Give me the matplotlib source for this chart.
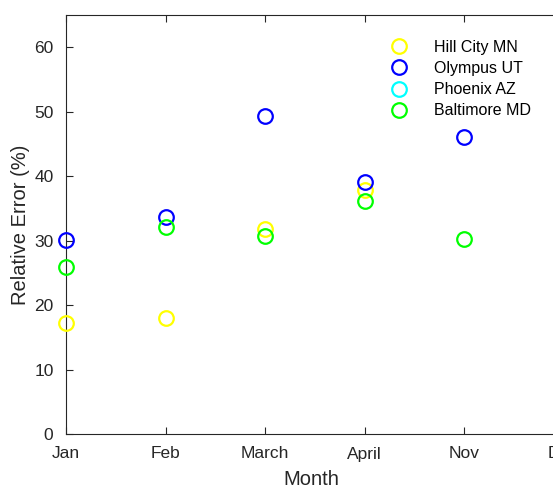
import numpy as np
import matplotlib
matplotlib.use("Agg")
import matplotlib.pyplot as plt

plt.rcParams['font.family'] = ['Liberation Sans', 'DejaVu Sans']

months = ["Jan", "Feb", "March", "April", "Nov", "Dec"]
hill_city = [17.2, 18.0, 31.8, 37.8, np.nan]
olympus = [30.1, 33.6, 49.3, 39.1, 46.0]
phoenix = [np.nan, np.nan, np.nan, np.nan, np.nan]
baltimore = [25.9, 32.1, 30.7, 36.1, 30.2]

series = [
    ("Hill City MN", hill_city, (1, 1, 0)),
    ("Olympus UT", olympus, (0, 0, 1)),
    ("Phoenix AZ", phoenix, (0, 1, 1)),
    ("Baltimore MD", baltimore, (0, 1, 0)),
]

W, H = 553, 491
fig = plt.figure(figsize=(W / 100, H / 100), dpi=100)
ax = fig.add_axes([66 / W, (H - 434) / H, 597 / W, (434 - 15) / H])

x = np.arange(1, len(hill_city) + 1)
for name, vals, col in series:
    ax.plot(x, vals, linestyle='none', marker='o', markersize=10.5,
            markerfacecolor='none', markeredgecolor=col, markeredgewidth=1.6,
            label=name, clip_on=False, zorder=3)

dark = '#262626'
ax.set_xlim(1, 7)
ax.set_ylim(0, 65)
ax.set_xticks(np.arange(1, len(months) + 1))
ax.set_xticklabels(months)
ax.set_yticks(np.arange(0, 61, 10))
ax.tick_params(direction='in', length=5, width=0.8, colors=dark,
               labelsize=12.5, top=True)
ax.tick_params(axis='x', pad=9)
ax.tick_params(axis='y', pad=9)
for s in ax.spines.values():
    s.set_color(dark)
    s.set_linewidth(0.8)
ax.set_xlabel("Month", fontsize=14.5, color=dark)
ax.xaxis.set_label_coords((311 - 66) / 597, -0.085)
ax.set_ylabel("Relative Error (%)", fontsize=14.5, color=dark)
ax.yaxis.set_label_coords(-(66 - 30) / 597, 0.5)

leg = ax.legend(loc='upper left', bbox_to_anchor=(389 / W, 1 - 40 / H),
                bbox_transform=fig.transFigure, frameon=False, fontsize=11.5,
                handlelength=1.2, handletextpad=1.6, labelspacing=0.38,
                borderaxespad=0, borderpad=0)
for t in leg.get_texts():
    t.set_color('black')

fig.savefig("out.png", dpi=100)
